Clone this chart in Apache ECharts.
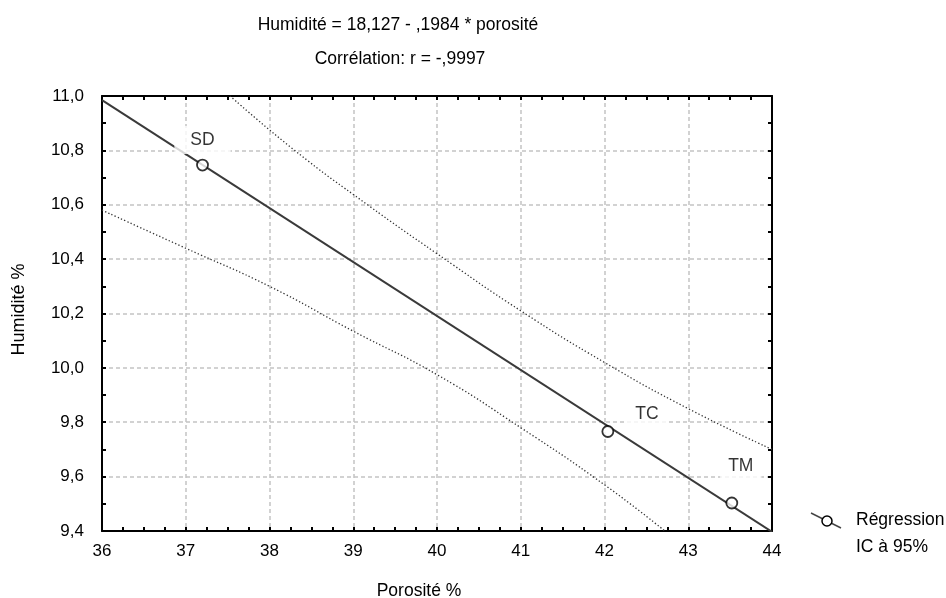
<!DOCTYPE html>
<html>
<head>
<meta charset="utf-8">
<script src="https://cdn.jsdelivr.net/npm/echarts@6/dist/echarts.min.js"></script>
<style>
  html, body { margin: 0; padding: 0; background: #fff; }
  #chart { width: 946px; height: 598px; }
</style>
</head>
<body>
<div id="chart"></div>
<script>
  // données
  const pointNames = ['SD', 'TC', 'TM']
  const porosite = [37.2, 42.04, 43.52]
  const humidite = [10.746, 9.766, 9.503]
  const regX = [36, 44]
  const regY = [10.985, 9.397]
  const upperX = [37.53, 38.3, 39.17, 40, 41, 42, 43, 44]
  const upperY = [11.0, 10.8, 10.6, 10.42, 10.21, 10.02, 9.85, 9.70]
  const lowerX = [36, 37, 38, 39, 40, 41, 42, 42.72]
  const lowerY = [10.58, 10.44, 10.30, 10.135, 9.975, 9.78, 9.57, 9.4]

  // décalage des étiquettes (style seulement)
  const labelOffsets = [[0, -25], [39, -17], [9, -37]]
  const labelPadding = [[5, 16], [5, 10], [5, 8]]

  const font = 'Liberation Sans, Arial, sans-serif'
  const comma = (v) => v.toFixed(1).replace('.', ',')
  const pairs = (xs, ys) => xs.map((x, i) => [x, ys[i]])

  const chart = echarts.init(document.getElementById('chart'))

  const baseX = {
    type: 'value',
    min: 36,
    max: 44,
    interval: 1,
    axisLine: { show: true, onZero: false, lineStyle: { color: '#000', width: 2 } },
    axisTick: { show: true, inside: true, length: 4, lineStyle: { color: '#000', width: 2 } },
    minorTick: { show: true, splitNumber: 4, length: 4, lineStyle: { color: '#000', width: 2 } },
    splitLine: { show: false }
  }
  const baseY = {
    type: 'value',
    min: 9.4,
    max: 11,
    interval: 0.2,
    axisLine: { show: true, onZero: false, lineStyle: { color: '#000', width: 2 } },
    axisTick: { show: true, inside: true, length: 4, lineStyle: { color: '#000', width: 2 } },
    minorTick: { show: true, splitNumber: 2, length: 4, lineStyle: { color: '#000', width: 2 } },
    splitLine: { show: false }
  }

  const option = {
    animation: false,
    backgroundColor: '#fff',
    textStyle: { fontFamily: font },
    title: [
      {
        text: 'Humidité = 18,127 - ,1984 * porosité',
        left: 398, top: 16, textAlign: 'center', padding: 0,
        textStyle: { fontFamily: font, fontSize: 17.5, fontWeight: 'normal', color: '#000' }
      },
      {
        text: 'Corrélation: r = -,9997',
        left: 400, top: 50, textAlign: 'center', padding: 0,
        textStyle: { fontFamily: font, fontSize: 17.5, fontWeight: 'normal', color: '#000' }
      }
    ],
    grid: { left: 102, right: 174, top: 96, bottom: 67, outerBoundsMode: 'none', containLabel: false },
    xAxis: [
      Object.assign({}, baseX, {
        position: 'bottom',
        name: 'Porosité %',
        nameLocation: 'middle',
        nameGap: 51,
        nameTextStyle: { fontFamily: font, fontSize: 17.5, color: '#000', padding: [0, 36, 0, 0] },
        axisLabel: { show: true, margin: 12, fontFamily: font, fontSize: 17, color: '#000' },
        splitLine: { show: true, lineStyle: { color: '#c4c4c4', type: [4, 3], width: 1.5 } }
      }),
      Object.assign({}, baseX, { position: 'top', axisLabel: { show: false } })
    ],
    yAxis: [
      Object.assign({}, baseY, {
        position: 'left',
        name: 'Humidité %',
        nameLocation: 'middle',
        nameGap: 74,
        nameRotate: 90,
        nameTextStyle: { fontFamily: font, fontSize: 18, color: '#000', padding: [0, 0, 0, 8] },
        axisLabel: { show: true, margin: 18, fontFamily: font, fontSize: 17, color: '#000', formatter: comma },
        splitLine: { show: true, lineStyle: { color: '#c4c4c4', type: [4, 3], width: 1.5 } }
      }),
      Object.assign({}, baseY, { position: 'right', axisLabel: { show: false } })
    ],
    legend: {
      orient: 'vertical',
      left: 850,
      top: 511,
      itemWidth: 1,
      itemHeight: 10,
      itemGap: 9,
      padding: 0,
      textStyle: { fontFamily: font, fontSize: 17.5, color: '#000' },
      data: [
        { name: 'Régression', icon: 'none' },
        { name: 'IC à 95%', icon: 'none' }
      ]
    },
    graphic: [
      {
        type: 'line',
        shape: { x1: 811, y1: 513, x2: 841, y2: 528 },
        style: { stroke: '#444', lineWidth: 1.5 }
      },
      {
        type: 'circle',
        shape: { cx: 827, cy: 521, r: 5 },
        style: { fill: '#fff', stroke: '#000', lineWidth: 1.5 }
      }
    ],
    series: [
      {
        name: 'Régression',
        type: 'line',
        data: pairs(regX, regY),
        symbol: 'none',
        lineStyle: { color: '#3a3a3a', width: 2 },
        z: 3
      },
      {
        name: 'IC à 95%',
        type: 'line',
        data: pairs(upperX, upperY),
        smooth: true,
        symbol: 'none',
        lineStyle: { color: '#333', width: 1.3, type: [1.3, 2.2] },
        z: 2
      },
      {
        name: 'IC à 95%',
        type: 'line',
        data: pairs(lowerX, lowerY),
        smooth: true,
        symbol: 'none',
        lineStyle: { color: '#333', width: 1.3, type: [1.3, 2.2] },
        z: 2
      },
      {
        name: 'points',
        type: 'scatter',
        symbol: 'circle',
        symbolSize: 11,
        itemStyle: { color: '#fff', borderColor: '#000', borderWidth: 1.8 },
        data: porosite.map((x, i) => ({
          value: [x, humidite[i]],
          name: pointNames[i],
          label: {
            show: true,
            position: 'inside',
            offset: labelOffsets[i],
            formatter: pointNames[i],
            backgroundColor: '#fff',
            padding: labelPadding[i],
            fontFamily: font,
            fontSize: 17.5,
            color: '#000'
          }
        })),
        z: 4
      }
    ]
  }

  chart.setOption(option)
</script>
</body>
</html>
